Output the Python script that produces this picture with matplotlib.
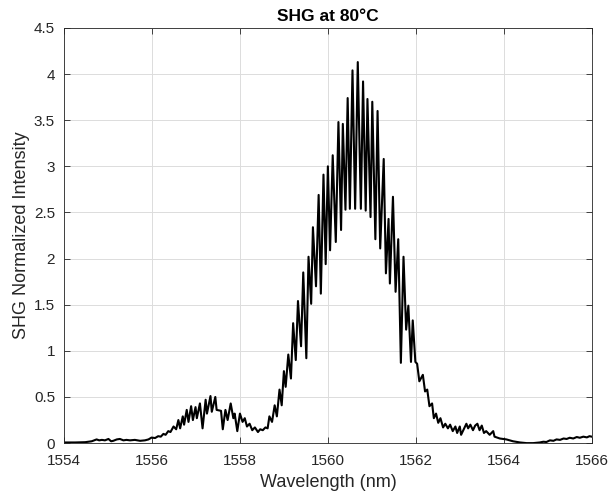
import matplotlib.pyplot as plt
import numpy as np

plt.rcParams['font.family'] = ['Liberation Sans', 'DejaVu Sans']

# SHG spectrum
wavelength_nm = [
    1554.01, 1554.25, 1554.48, 1554.63, 1554.74, 1554.80, 1554.86, 1554.93,
    1555.01, 1555.07, 1555.12, 1555.20, 1555.27, 1555.35, 1555.42, 1555.50,
    1555.61, 1555.73, 1555.84, 1555.92, 1555.99, 1556.07, 1556.14, 1556.20,
    1556.26, 1556.31, 1556.37, 1556.42, 1556.49, 1556.55, 1556.60, 1556.64,
    1556.70, 1556.73, 1556.79, 1556.83, 1556.89, 1556.93, 1556.99, 1557.02,
    1557.09, 1557.15, 1557.22, 1557.25, 1557.33, 1557.36, 1557.44, 1557.47,
    1557.57, 1557.61, 1557.67, 1557.72, 1557.79, 1557.85, 1557.88, 1557.94,
    1558.00, 1558.06, 1558.11, 1558.16, 1558.22, 1558.28, 1558.34, 1558.41,
    1558.46, 1558.52, 1558.58, 1558.63, 1558.67, 1558.73, 1558.79, 1558.84,
    1558.90, 1558.95,
    1559.00, 1559.04, 1559.10, 1559.16, 1559.21, 1559.27, 1559.32, 1559.39,
    1559.44, 1559.51, 1559.56, 1559.62, 1559.66, 1559.73, 1559.79, 1559.84,
    1559.90, 1559.95, 1560.00, 1560.05, 1560.11, 1560.18, 1560.24, 1560.30,
    1560.34, 1560.40, 1560.45, 1560.50, 1560.56, 1560.62, 1560.68, 1560.75,
    1560.80, 1560.86, 1560.90, 1560.97, 1561.01, 1561.08, 1561.13, 1561.19,
    1561.27, 1561.32, 1561.38, 1561.41, 1561.48, 1561.54, 1561.60, 1561.66,
    1561.72, 1561.78, 1561.83, 1561.89, 1561.93, 1561.99, 1562.03, 1562.08,
    1562.16, 1562.21, 1562.26, 1562.31, 1562.37, 1562.41, 1562.46, 1562.51,
    1562.56, 1562.62, 1562.67, 1562.73, 1562.78, 1562.84, 1562.90, 1562.94,
    1563.00, 1563.03, 1563.10, 1563.15, 1563.19, 1563.24, 1563.30, 1563.35,
    1563.40, 1563.45, 1563.50, 1563.55, 1563.60, 1563.68, 1563.76, 1563.79,
    1563.91, 1564.06, 1564.21, 1564.37, 1564.52, 1564.67, 1564.82, 1564.90,
    1564.97, 1565.05, 1565.13, 1565.20, 1565.28, 1565.36, 1565.43, 1565.50,
    1565.58, 1565.66, 1565.73, 1565.81, 1565.89, 1565.95, 1566.00,
]
shg_intensity = [
    0.007, 0.007, 0.010, 0.020, 0.040, 0.030, 0.035, 0.030,
    0.045, 0.020, 0.025, 0.040, 0.045, 0.030, 0.035, 0.030,
    0.035, 0.025, 0.030, 0.040, 0.060, 0.055, 0.075, 0.070,
    0.100, 0.090, 0.130, 0.120, 0.180, 0.150, 0.250, 0.160,
    0.290, 0.200, 0.360, 0.230, 0.400, 0.250, 0.390, 0.270,
    0.430, 0.160, 0.470, 0.320, 0.510, 0.340, 0.500, 0.360,
    0.350, 0.150, 0.360, 0.250, 0.430, 0.270, 0.320, 0.130,
    0.320, 0.230, 0.270, 0.180, 0.210, 0.140, 0.170, 0.120,
    0.150, 0.140, 0.170, 0.160, 0.290, 0.230, 0.410, 0.290,
    0.580, 0.410,
    0.78, 0.61, 0.96, 0.70, 1.30, 0.90, 1.54, 1.05,
    1.85, 0.92, 2.02, 1.51, 2.34, 1.70, 2.69, 1.62,
    2.91, 1.94, 3.00, 2.09, 3.12, 2.18, 3.48, 2.31,
    3.46, 2.53, 3.74, 2.54, 4.04, 2.54, 4.13, 2.54,
    3.92, 2.52, 3.73, 2.45, 3.70, 2.21, 3.60, 2.11,
    3.08, 1.84, 2.43, 1.73, 2.67, 1.64, 2.21, 0.87,
    2.02, 1.23, 1.49, 0.88, 1.33, 0.88, 0.86, 0.67,
    0.74, 0.56, 0.58, 0.40, 0.43, 0.27, 0.32, 0.22,
    0.27, 0.17, 0.21, 0.16, 0.20, 0.13, 0.18, 0.11,
    0.18, 0.09, 0.16, 0.21, 0.16, 0.20, 0.14, 0.19,
    0.21, 0.14, 0.19, 0.11, 0.13, 0.09, 0.13, 0.07,
    0.05, 0.04, 0.02, 0.007, 0.0, 0.0, 0.007, 0.015,
    0.012, 0.030, 0.025, 0.040, 0.035, 0.050, 0.045, 0.058,
    0.050, 0.066, 0.058, 0.070, 0.062, 0.075, 0.070,
]

x_ticks = [1554, 1556, 1558, 1560, 1562, 1564, 1566]
y_ticks = [0, 0.5, 1, 1.5, 2, 2.5, 3, 3.5, 4, 4.5]
y_tick_labels = ['0', '0.5', '1', '1.5', '2', '2.5', '3', '3.5', '4', '4.5']

fig = plt.figure(figsize=(6.1, 4.99), dpi=100)
ax = fig.add_axes([0.105, 0.112, 0.865, 0.832])

ax.plot(wavelength_nm, shg_intensity, color='black', linewidth=1.5)

ax.set_xlim(1554, 1566)
ax.set_ylim(0, 4.5)
ax.set_xticks(x_ticks)
ax.set_yticks(y_ticks)
ax.set_yticklabels(y_tick_labels)
ax.grid(True, color='#dcdcdc', linewidth=0.7)
ax.set_axisbelow(True)

for spine in ax.spines.values():
    spine.set_color('#262626')
    spine.set_linewidth(0.6)
ax.tick_params(direction='in', length=4, width=0.6, colors='#262626',
               labelsize=11, top=True, right=True)
ax.tick_params(axis='x', pad=8)
ax.tick_params(axis='y', pad=6.5)

ax.set_xlabel('Wavelength (nm)', fontsize=13, color='#262626', labelpad=4)
ax.set_ylabel('SHG Normalized Intensity', fontsize=13, color='#262626',
              labelpad=3)
ax.set_title('SHG at 80°C', fontsize=12.5, fontweight='bold', pad=5)

fig.savefig('out.png', dpi=100)
